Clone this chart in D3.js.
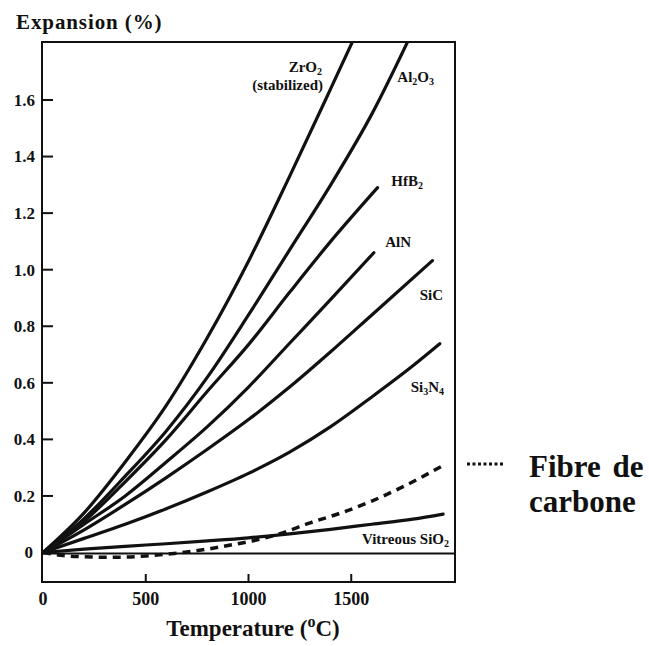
<!DOCTYPE html>
<html><head><meta charset="utf-8">
<script src="https://cdn.jsdelivr.net/npm/d3@7"></script>
<style>body{margin:0;background:#fff}svg{display:block}</style>
</head><body>
<script>
// ---- data ----
const xTicks = [0, 500, 1000, 1500];
const yTicks = [0.2, 0.4, 0.6, 0.8, 1.0, 1.2, 1.4, 1.6];
const yTickLabels = ["0.2","0.4","0.6","0.8","1.0","1.2","1.4","1.6"];

const zrO2T = [0,200,400,600,800,1000,1200,1400,1550];
const zrO2V = [0,0.14,0.32,0.52,0.76,1.03,1.33,1.64,1.875];
const al2O3T = [0,200,400,600,800,1000,1200,1400,1600,1800];
const al2O3V = [0,0.12,0.27,0.43,0.62,0.84,1.07,1.30,1.55,1.845];
const hfB2T = [0,200,400,600,800,1000,1200,1400,1628];
const hfB2V = [0,0.11,0.25,0.40,0.57,0.735,0.92,1.10,1.29];
const alNT = [0,200,400,600,800,1000,1200,1400,1610];
const alNV = [0,0.10,0.20,0.32,0.445,0.585,0.74,0.895,1.06];
const siCT = [0,200,400,600,800,1000,1200,1400,1600,1895];
const siCV = [0,0.08,0.17,0.265,0.365,0.47,0.585,0.71,0.84,1.032];
const si3N4T = [0,200,400,600,800,1000,1200,1400,1600,1800,1931];
const si3N4V = [0,0.05,0.10,0.155,0.215,0.28,0.355,0.445,0.55,0.66,0.738];
const sio2T = [0,200,400,600,800,1000,1200,1400,1600,1800,1947];
const sio2V = [0,0.012,0.022,0.031,0.041,0.052,0.066,0.082,0.10,0.118,0.136];
const carbonT = [0,100,200,300,400,500,600,700,800,900,1000,1150,1300,1450,1600,1750,1940];
const carbonV = [0,-0.011,-0.015,-0.017,-0.016,-0.012,-0.006,0.002,0.012,0.025,0.038,0.066,0.105,0.14,0.182,0.232,0.305];

const W = 649, H = 646;
const svg = d3.select("body").append("svg").attr("width", W).attr("height", H);
const serif = "'Liberation Serif','DejaVu Serif',serif";

const x = d3.scaleLinear().domain([0, 2000]).range([43, 454]);
const y = d3.scaleLinear().domain([-0.106, 1.805]).range([582.5, 42]);
const x0 = 42, x1 = 455, yTop = 42, yBot = 582;

svg.append("defs").append("clipPath").attr("id","plot")
  .append("rect").attr("x", x0).attr("y", yTop).attr("width", x1-x0).attr("height", yBot-yTop);

const line = d3.line().x(d => x(d[0])).y(d => y(d[1])).curve(d3.curveMonotoneX);
const zip = (T, V) => T.map((t, i) => [t, V[i]]);

const g = svg.append("g").attr("clip-path", "url(#plot)");
// zero line
g.append("line").attr("x1", x0).attr("x2", x1).attr("y1", y(0)+1).attr("y2", y(0)+1)
  .attr("stroke", "#111").attr("stroke-width", 2);

const solid = [[zrO2T,zrO2V],[al2O3T,al2O3V],[hfB2T,hfB2V],[alNT,alNV],[siCT,siCV],[si3N4T,si3N4V],[sio2T,sio2V]];
solid.forEach(([T,V]) => {
  g.append("path").attr("d", line(zip(T,V))).attr("fill","none")
    .attr("stroke","#111").attr("stroke-width",3.2).attr("stroke-linecap","round");
});
g.append("path").attr("d", line(zip(carbonT,carbonV))).attr("fill","none")
  .attr("stroke","#111").attr("stroke-width",3.5).attr("stroke-dasharray","8,6");

// frame
svg.append("rect").attr("x", x0).attr("y", yTop).attr("width", x1-x0).attr("height", yBot-yTop)
  .attr("fill","none").attr("stroke","#111").attr("stroke-width",2);

// y ticks (inward)
const yAxis = svg.append("g");
yTicks.forEach((v, i) => {
  yAxis.append("line").attr("x1", x0).attr("x2", x0+11).attr("y1", y(v)).attr("y2", y(v))
    .attr("stroke","#111").attr("stroke-width",2);
  yAxis.append("text").attr("x", 35).attr("y", y(v)).attr("dy","0.35em").attr("text-anchor","end")
    .attr("font-family", serif).attr("font-weight","bold").attr("font-size",17).attr("fill","#111")
    .text(yTickLabels[i]);
});
yAxis.append("text").attr("x", 33).attr("y", y(0)).attr("dy","0.3em").attr("text-anchor","end")
  .attr("font-family", serif).attr("font-weight","bold").attr("font-size",17).attr("fill","#111").text("0");

// x ticks (inward)
xTicks.forEach(t => {
  if (t > 0) svg.append("line").attr("x1", x(t)).attr("x2", x(t)).attr("y1", yBot).attr("y2", yBot-8)
    .attr("stroke","#111").attr("stroke-width",2);
  svg.append("text").attr("x", x(t)).attr("y", 599).attr("dy","0.35em").attr("text-anchor","middle")
    .attr("font-family", serif).attr("font-weight","bold").attr("font-size",18).attr("fill","#111").text(t);
});

// axis titles
svg.append("text").attr("x", 16).attr("y", 29).attr("font-family", serif).attr("font-weight","bold")
  .attr("font-size",21).attr("letter-spacing",0.9).attr("fill","#111").text("Expansion (%)");
const xt = svg.append("text").attr("x", 253).attr("y", 636).attr("text-anchor","middle")
  .attr("font-family", serif).attr("font-weight","bold").attr("font-size",23).attr("fill","#111");
xt.append("tspan").text("Temperature (");
xt.append("tspan").attr("font-size",16).attr("dy",-9).text("o");
xt.append("tspan").attr("dy",9).text("C)");

// curve labels
function label(xp, yp, parts) {
  const t = svg.append("text").attr("x", xp).attr("y", yp).attr("text-anchor", "end")
    .attr("font-family", serif).attr("font-weight","bold").attr("font-size",15).attr("fill","#111");
  let shifted = false;
  parts.forEach(p => {
    if (typeof p === "string") {
      const s = t.append("tspan").text(p);
      if (shifted) { s.attr("dy", -3); shifted = false; }
    } else {
      t.append("tspan").attr("font-size",10).attr("dy",3).text(p.sub);
      shifted = true;
    }
  });
}
label(322, 72, ["ZrO", {sub:"2"}]);
label(323, 90, ["(stabilized)"]);
label(434, 82, ["Al", {sub:"2"}, "O", {sub:"3"}]);
label(423, 186, ["HfB", {sub:"2"}]);
label(411, 247, ["AlN"]);
label(443, 300, ["SiC"]);
label(444, 392, ["Si", {sub:"3"}, "N", {sub:"4"}]);
label(449, 544, ["Vitreous SiO", {sub:"2"}]);

// legend
svg.append("line").attr("x1", 467).attr("x2", 503).attr("y1", 464).attr("y2", 464)
  .attr("stroke","#111").attr("stroke-width",3).attr("stroke-dasharray","3,2.5");
svg.append("text").attr("x", 529).attr("y", 477).attr("font-family", serif).attr("font-weight","bold")
  .attr("font-size",31).attr("word-spacing",4).attr("fill","#111").text("Fibre de");
svg.append("text").attr("x", 529).attr("y", 512).attr("font-family", serif).attr("font-weight","bold")
  .attr("font-size",31).attr("fill","#111").text("carbone");
</script>
</body></html>
